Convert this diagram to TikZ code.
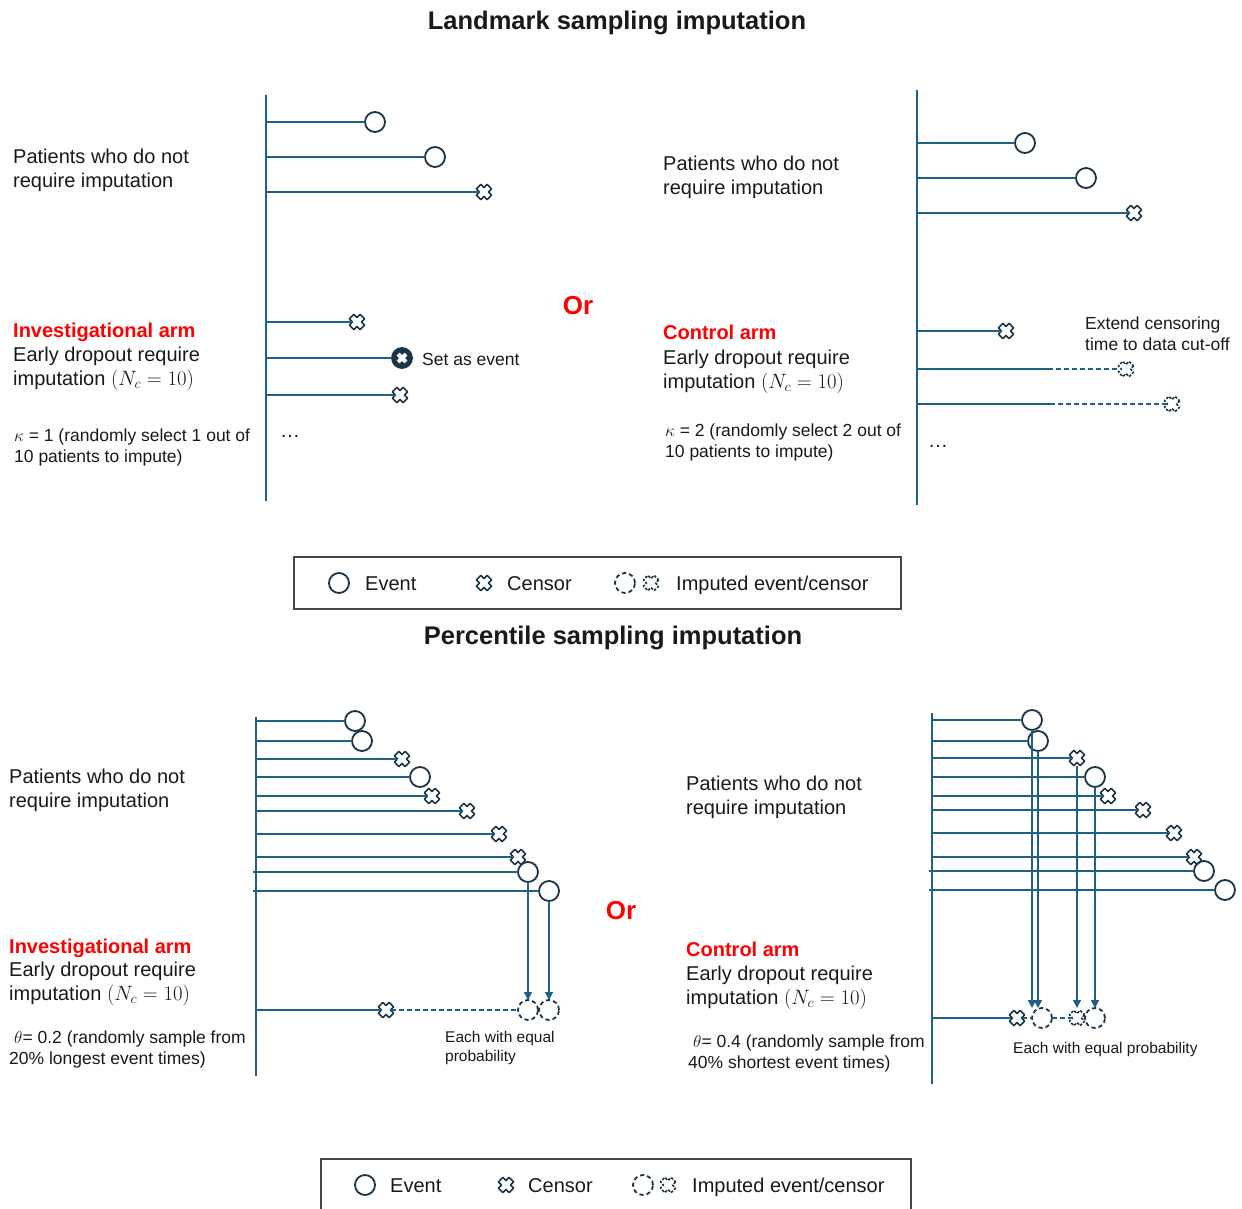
\documentclass[tikz,border=0pt]{standalone}
\usepackage{fontspec}
\setmainfont{Liberation Sans}
\usetikzlibrary{arrows.meta}
\definecolor{lc}{RGB}{31,96,133}
\definecolor{sc}{RGB}{24,52,70}
\definecolor{fr}{RGB}{70,70,70}
\definecolor{tc}{RGB}{25,25,25}
\newcommand\cxpath{(7.6,3.2)--(3.2,3.2)--(3.2,7.6)--(-3.2,7.6)--(-3.2,3.2)--(-7.6,3.2)--(-7.6,-3.2)--(-3.2,-3.2)--(-3.2,-7.6)--(3.2,-7.6)--(3.2,-3.2)--(7.6,-3.2)--cycle}
\newcommand\censorat[3][csym]{%
  \node[cbox] (#2) at (#3) {};
  \path[#1, shift={(#2.center)}, rotate=45] \cxpath;}
\begin{document}
\begin{tikzpicture}[x=1pt,y=-1pt,
  axisl/.style={draw=lc, line width=1.8pt},
  tline/.style={draw=lc, line width=1.8pt},
  dline/.style={draw=lc, line width=1.6pt, dash pattern=on 5pt off 3pt},
  evt/.style={circle, draw=sc, line width=1.8pt, minimum size=20pt, inner sep=0pt, outer sep=0pt},
  devt/.style={evt, dash pattern=on 4.2pt off 3pt},
  cbox/.style={rectangle, minimum width=9pt, minimum height=16pt, inner sep=0pt, outer sep=0pt},
  csym/.style={draw=sc, fill=white, line width=1.6pt, line join=round},
  dcsym/.style={csym, dash pattern=on 2.6pt off 1.6pt},
  arr/.style={draw=lc, line width=1.6pt, -{Triangle[length=8pt,width=8pt]}},
  btxt/.style={font=\fontsize{20}{24}\selectfont, anchor=west, align=left, inner sep=0pt, text=tc, yshift=-2.5pt},
  ltxt/.style={btxt, text height=14.5pt, text depth=4.2pt},
  stxt/.style={font=\fontsize{17.5}{21}\selectfont, anchor=west, align=left, inner sep=0pt, text=tc, yshift=-1pt},
  xstxt/.style={font=\fontsize{15.5}{19}\selectfont, anchor=west, align=left, inner sep=0pt, text=tc, yshift=-1pt},
  rtxt/.style={font=\fontsize{20}{24}\selectfont\bfseries, anchor=west, inner sep=0pt, text=red, yshift=-2pt, text height=14.5pt, text depth=4.2pt},
  ttl/.style={font=\fontsize{25.5}{30}\selectfont\bfseries, inner sep=0pt, text=tc, yshift=-3pt},
  ortxt/.style={font=\fontsize{26}{30}\selectfont\bfseries, inner sep=0pt, text=red, yshift=-1pt},
  legbox/.style={draw=fr, line width=1.2pt, rectangle, inner sep=0pt},
]
\useasboundingbox (0,0) rectangle (1242,1209);
\clip (0,0) rectangle (1242,1209);

% ---------- titles ----------
\node[ttl] (t1) at (617,20) {Landmark sampling imputation};
\node[ttl] (t2) at (613,635) {Percentile sampling imputation};
\node[ortxt] (or1) at (578,305) {Or};
\node[ortxt] (or2) at (621,910) {Or};

% ---------- top left ----------
\coordinate (A1t) at (266,95); \coordinate (A1b) at (266,501);
\draw[axisl] (A1t) -- (A1b);
\node[evt] (a1) at (375,122) {};
\node[evt] (a2) at (435,157) {};
\censorat{a3}{484,192}
\censorat{a4}{357,322}
\node[evt, fill=sc] (a5) at (402,358) {};
\path[csym, line width=1pt, shift={(a5.center)}, rotate=45, scale=0.82] \cxpath;
\censorat{a6}{400,395}
\foreach \n in {a1,a2,a3,a4,a5,a6} \draw[tline] (A1t |- \n) -- (\n);
\node[stxt] (se) at (422,358) {Set as event};
\node[btxt, anchor=center, yshift=2.5pt] (dots1) at (290,436) {…};
\node[btxt] (p1) at (13,168) {Patients who do not\\require imputation};
\node[rtxt] (r1) at (13,330) {Investigational arm};
\node[btxt] (d1) at (13,366) {Early dropout require\\imputation $(N_c = 10)$};
\node[stxt] (k1) at (14,446) {$\kappa$ = 1 (randomly select 1 out of\\10 patients to impute)};

% ---------- top right ----------
\coordinate (A2t) at (917,90); \coordinate (A2b) at (917,505);
\draw[axisl] (A2t) -- (A2b);
\node[evt] (b1) at (1025,143) {};
\node[evt] (b2) at (1086,178) {};
\censorat{b3}{1134,213}
\censorat{b4}{1006,331}
\censorat[dcsym]{b5}{1126,369}
\censorat[dcsym]{b6}{1172,404}
\coordinate (m5) at (1048,369); \coordinate (m6) at (1050,404);
\foreach \n in {b1,b2,b3,b4,m5,m6} \draw[tline] (A2t |- \n) -- (\n);
\draw[dline] (m5) -- (b5);
\draw[dline] (m6) -- (b6);
\node[stxt] (ext) at (1085,333) {Extend censoring\\time to data cut-off};
\node[btxt, anchor=center, yshift=2.5pt] (dots2) at (938,446) {…};
\node[btxt] (p2) at (663,175) {Patients who do not\\require imputation};
\node[rtxt] (r2) at (663,332) {Control arm};
\node[btxt] (d2) at (663,369) {Early dropout require\\imputation $(N_c = 10)$};
\node[stxt] (k2) at (665,441) {$\kappa$ = 2 (randomly select 2 out of\\10 patients to impute)};

% ---------- legend 1 ----------
\node[legbox, minimum width=607pt, minimum height=52pt] (L1) at (597.5,583) {};
\node[evt] (L1e) at (339,583) {};
\node[ltxt] (L1et) at (365,583) {Event};
\censorat{L1c}{484,583}
\node[ltxt] (L1ct) at (507,583) {Censor};
\node[devt] (L1de) at (625,583) {};
\censorat[dcsym]{L1dc}{651,583}
\node[ltxt] (L1it) at (676,583) {Imputed event/censor};

% ---------- bottom left ----------
\coordinate (A3t) at (256,717); \coordinate (A3b) at (256,1076); \coordinate (A3l) at (253,717);
\draw[axisl] (A3t) -- (A3b);
\node[evt] (c1) at (355,721) {};
\node[evt] (c2) at (362,741) {};
\censorat{c3}{402,759}
\node[evt] (c4) at (420,777) {};
\censorat{c5}{432,796}
\censorat{c6}{467,811}
\censorat{c7}{499,834}
\censorat{c8}{518,857}
\node[evt] (c9) at (528,872) {};
\node[evt] (c10) at (549,891) {};
\foreach \n in {c1,c2,c3,c4,c5,c6,c7,c8} \draw[tline] (A3t |- \n) -- (\n);
\foreach \n in {c9,c10} \draw[tline] (A3l |- \n) -- (\n);
\censorat{c11}{386,1010}
\node[devt] (cd1) at (528,1010) {};
\node[devt] (cd2) at (549,1010) {};
\draw[tline] (A3t |- c11) -- (c11);
\draw[dline] (c11) -- (cd1);
\draw[arr] (c9.south) -- (c9.south |- cd1.north);
\draw[arr] (c10.south) -- (c10.south |- cd2.north);
\node[xstxt] (eq3) at (445,1047) {Each with equal\\probability};
\node[btxt] (p3) at (9,788) {Patients who do not\\require imputation};
\node[rtxt] (r3) at (9,946) {Investigational arm};
\node[btxt] (d3) at (9,981) {Early dropout require\\imputation $(N_c = 10)$};
\node[stxt] (th3) at (9,1048) {\hspace*{5pt}$\theta$= 0.2 (randomly sample from\\20\% longest event times)};

% ---------- bottom right ----------
\coordinate (A4t) at (932,713); \coordinate (A4b) at (932,1084); \coordinate (A4l) at (929,713);
\draw[axisl] (A4t) -- (A4b);
\node[evt] (e1) at (1032,720) {};
\node[evt] (e2) at (1038,741) {};
\censorat{e3}{1077,758}
\node[evt] (e4) at (1095,777) {};
\censorat{e5}{1108,796}
\censorat{e6}{1143,810}
\censorat{e7}{1174,833}
\censorat{e8}{1194,857}
\node[evt] (e9) at (1204,871) {};
\node[evt] (e10) at (1225,890) {};
\foreach \n in {e1,e2,e3,e4,e5,e6,e7,e8} \draw[tline] (A4t |- \n) -- (\n);
\foreach \n in {e9,e10} \draw[tline] (A4l |- \n) -- (\n);
\censorat{e11}{1017,1018}
\node[devt] (ed1) at (1042,1018) {};
\censorat[dcsym]{ed2}{1077,1018}
\node[devt] (ed3) at (1095,1018) {};
\draw[tline] (A4t |- e11) -- (e11);
\draw[dline] (e11) -- (ed1);
\draw[dline] (ed1) -- (ed2);
\draw[arr] (e1.south) -- (e1.south |- ed1.north);
\draw[arr] (e2.south) -- (e2.south |- ed1.north);
\draw[arr] (e3.south) -- (e3.south |- ed1.north);
\draw[arr] (e4.south) -- (e4.south |- ed3.north);
\node[xstxt] (eq4) at (1013,1048) {Each with equal probability};
\node[btxt] (p4) at (686,795) {Patients who do not\\require imputation};
\node[rtxt] (r4) at (686,949) {Control arm};
\node[btxt] (d4) at (686,985) {Early dropout require\\imputation $(N_c = 10)$};
\node[stxt] (th4) at (688,1052) {\hspace*{5pt}$\theta$= 0.4 (randomly sample from\\40\% shortest event times)};

% ---------- legend 2 ----------
\node[legbox, minimum width=590pt, minimum height=56pt] (L2) at (616,1187) {};
\node[evt] (L2e) at (365,1185) {};
\node[ltxt] (L2et) at (390,1185) {Event};
\censorat{L2c}{506,1185}
\node[ltxt] (L2ct) at (528,1185) {Censor};
\node[devt] (L2de) at (643,1185) {};
\censorat[dcsym]{L2dc}{668,1185}
\node[ltxt] (L2it) at (692,1185) {Imputed event/censor};
\end{tikzpicture}
\end{document}
